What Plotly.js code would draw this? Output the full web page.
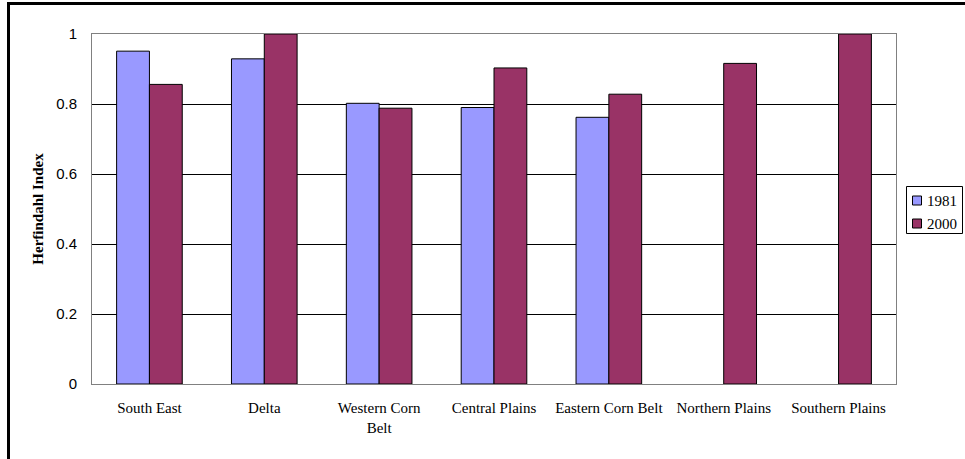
<!DOCTYPE html>
<html>
<head>
<meta charset="utf-8">
<script src="https://cdn.plot.ly/plotly-3.0.1.min.js"></script>
<style>
html,body{margin:0;padding:0;background:#fff;}
#chart{width:965px;height:459px;}
</style>
</head>
<body>
<div id="chart"></div>
<script>
var categories = ["South East", "Delta", "Western Corn<br>Belt", "Central Plains", "Eastern Corn Belt", "Northern Plains", "Southern Plains"];
var seriesNames = ["1981", "2000"];
var values1981 = [0.951, 0.929, 0.802, 0.790, 0.762, null, null];
var values2000 = [0.856, 1.0, 0.788, 0.903, 0.828, 0.916, 1.0];
var seriesColors = ["#9999FF", "#993366"];
var yTicks = [0, 0.2, 0.4, 0.6, 0.8, 1];
var yTickText = ["0", "0.2", "0.4", "0.6", "0.8", "1"];

var serif = "Liberation Serif, Times New Roman, serif";
var sans = "Liberation Sans, Arial, sans-serif";

var seriesValues = [values1981, values2000];
var traces = seriesNames.map(function(n, i){
  return {type: "bar", name: n, x: categories, y: seriesValues[i], showlegend: false,
    marker: {color: seriesColors[i], line: {color: "#000000", width: 1}}};
});

var L = 92, R = 69, T = 34, B = 75, W = 965, H = 459;
var pw = W - L - R, ph = H - T - B;
function px2x(p){ return (p - L) / pw; }
function py2y(p){ return 1 - (p - T) / ph; }

var shapes = [
  {type: "line", xref: "paper", yref: "paper", x0: px2x(8.5), x1: px2x(975), y0: py2y(3.5), y1: py2y(3.5), line: {color: "#000", width: 3}},
  {type: "line", xref: "paper", yref: "paper", x0: px2x(8.5), x1: px2x(8.5), y0: py2y(2), y1: py2y(470), line: {color: "#000", width: 3}},
  {type: "rect", xref: "paper", yref: "paper", x0: px2x(906.5), x1: px2x(962.5), y0: py2y(186.5), y1: py2y(233.5), line: {color: "#000", width: 1}, fillcolor: "#fff"}
];
var annotations = [];
seriesNames.forEach(function(n, i){
  var cy = 200.5 + i * 23;
  shapes.push({type: "rect", xref: "paper", yref: "paper", x0: px2x(912.5), x1: px2x(921.5), y0: py2y(cy - 4.5), y1: py2y(cy + 4.5),
    line: {color: "#000", width: 1}, fillcolor: seriesColors[i]});
  annotations.push({xref: "paper", yref: "paper", x: px2x(925), y: py2y(cy), xanchor: "left", yanchor: "middle",
    text: n, showarrow: false, font: {family: serif, size: 15, color: "#000"}});
});

var layout = {
  width: W, height: H,
  margin: {l: L, r: R, t: T, b: B, pad: 0, autoexpand: false},
  paper_bgcolor: "#ffffff",
  plot_bgcolor: "#ffffff",
  barmode: "group",
  bargap: 0.4286,
  bargroupgap: 0,
  showlegend: false,
  xaxis: {
    type: "category",
    showgrid: false, zeroline: false,
    showline: true, linecolor: "#808080", linewidth: 1, mirror: true,
    ticks: "", ticklabelstandoff: 10,
    tickfont: {family: serif, size: 15, color: "#000"},
    fixedrange: true
  },
  yaxis: {
    range: [0, 1],
    tickvals: yTicks, ticktext: yTickText,
    showgrid: true, gridcolor: "#000000", gridwidth: 1,
    zeroline: false,
    showline: true, linecolor: "#808080", linewidth: 1, mirror: true,
    ticks: "", ticklabelstandoff: 11,
    tickfont: {family: sans, size: 15, color: "#000"},
    title: {text: "Herfindahl Index", font: {family: serif, size: 15, color: "#000", weight: "bold"}, standoff: 8},
    fixedrange: true
  },
  shapes: shapes,
  annotations: annotations
};

Plotly.newPlot("chart", traces, layout, {displayModeBar: false, staticPlot: true});
</script>
</body>
</html>
